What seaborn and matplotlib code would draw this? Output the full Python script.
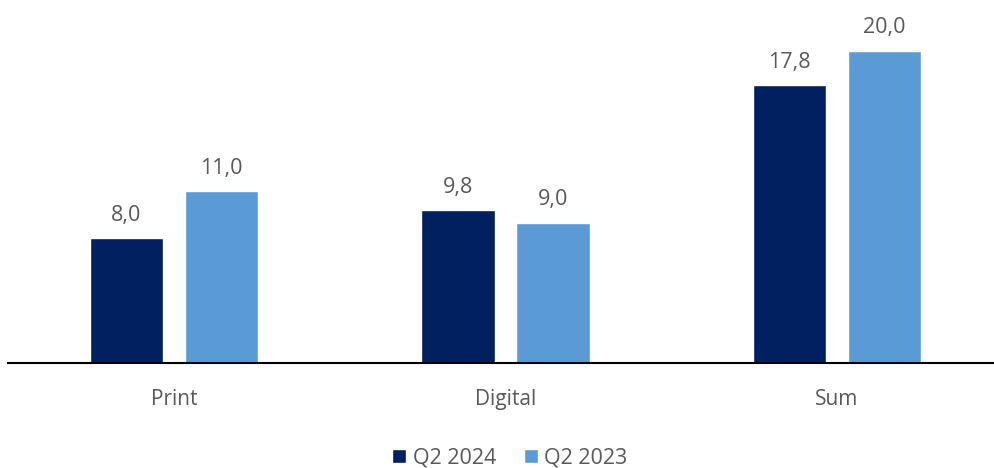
import pandas as pd
import matplotlib
matplotlib.use("Agg")
import matplotlib.pyplot as plt
import seaborn as sns

# data
categories = ["Print", "Digital", "Sum"]
series = ["Q2 2024", "Q2 2023"]
q2_2024 = [8.0, 9.8, 17.8]
q2_2023 = [11.0, 9.0, 20.0]

COLORS = ["#002060", "#5B9BD5"]
TEXT = "#595959"

sns.set_theme(style="white")
plt.rcParams["font.family"] = ["Open Sans", "DejaVu Sans"]

df = pd.DataFrame({
    "category": categories * 2,
    "series": [series[0]] * 3 + [series[1]] * 3,
    "value": q2_2024 + q2_2023,
})

fig = plt.figure(figsize=(9.94, 4.68), dpi=100)
ax = fig.add_axes([8 / 994, 105 / 468, 986 / 994, 351 / 468])

sns.barplot(data=df, x="category", y="value", hue="series", order=categories,
            hue_order=series, palette=COLORS, width=0.573, gap=0.23,
            saturation=1, errorbar=None, ax=ax, legend=True)

for cont in ax.containers:
    ax.bar_label(cont, labels=[f"{v:.1f}".replace(".", ",") for v in cont.datavalues],
                 padding=9, fontsize=15.5, color=TEXT)

ax.set_xlim(-0.5008, 2.4736)
ax.set_ylim(0, 22.5)
ax.set_xlabel("")
ax.set_ylabel("")
ax.set_yticks([])
ax.tick_params(axis="x", length=0, pad=19, labelsize=15, labelcolor=TEXT)
for s in ["top", "right", "left"]:
    ax.spines[s].set_visible(False)
ax.spines["bottom"].set_color("black")
ax.spines["bottom"].set_linewidth(1.5)

handles, labels = ax.get_legend_handles_labels()
ax.legend_.remove()
fig.legend(handles, labels, loc="center", bbox_to_anchor=(510 / 994, 1 - 458 / 468),
           ncol=2, frameon=False, fontsize=15.5, labelcolor=TEXT,
           handlelength=0.65, handleheight=0.65, handletextpad=0.3, columnspacing=1.3)

fig.savefig("out.png", dpi=100)
